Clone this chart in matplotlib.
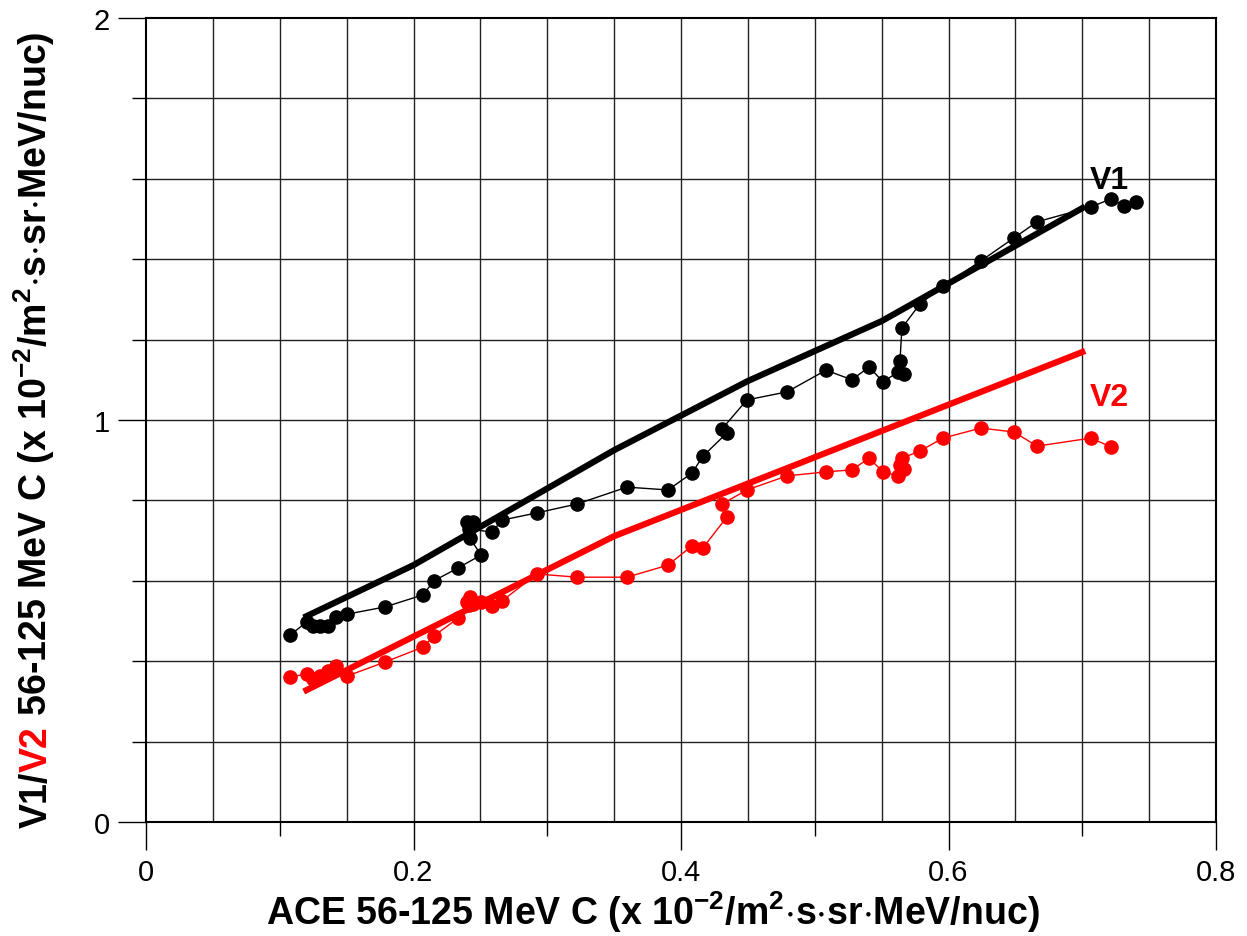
import numpy as np
import matplotlib
matplotlib.use("Agg")
import matplotlib.pyplot as plt

plt.rcParams['font.family'] = ['Liberation Sans', 'DejaVu Sans']
plt.rcParams['mathtext.default'] = 'regular'

# ACE 56-125 MeV C intensity (shared x for both Voyagers)
ace = [0.1077, 0.1204, 0.1249, 0.1301, 0.1361, 0.1421, 0.1503, 0.1787, 0.2071,
       0.2153, 0.2333, 0.2505, 0.2422, 0.2400, 0.2445, 0.2415, 0.2587, 0.2662,
       0.2923, 0.3222, 0.3596, 0.3903, 0.4082, 0.4164, 0.4344, 0.4307, 0.4493,
       0.4793, 0.5084, 0.5278, 0.5406, 0.5510, 0.5622, 0.5667, 0.5637, 0.5652,
       0.5787, 0.5959, 0.6243, 0.6490, 0.6662, 0.7065, 0.7215, 0.7312, 0.7402]

v1 = [0.465, 0.498, 0.488, 0.488, 0.488, 0.510, 0.517, 0.535, 0.565,
      0.600, 0.632, 0.664, 0.706, 0.746, 0.746, 0.729, 0.721, 0.751,
      0.769, 0.791, 0.833, 0.826, 0.868, 0.910, 0.968, 0.978, 1.050,
      1.070, 1.124, 1.100, 1.132, 1.095, 1.119, 1.114, 1.147, 1.229,
      1.289, 1.333, 1.396, 1.453, 1.493, 1.530, 1.550, 1.532, 1.542]

v2 = [0.361, 0.368, 0.356, 0.363, 0.376, 0.388, 0.363, 0.398, 0.435,
      0.463, 0.507, 0.547, 0.560, 0.547, 0.542, 0.540, 0.537, 0.550,
      0.617, 0.609, 0.609, 0.639, 0.687, 0.682, 0.759, 0.791, 0.826,
      0.861, 0.871, 0.876, 0.905, 0.871, 0.861, 0.878, 0.888, 0.905,
      0.923, 0.955, 0.980, 0.970, 0.935, 0.955, 0.933]

# smooth trend curves
fit1_x = [0.12, 0.20, 0.35, 0.45, 0.55, 0.70]
fit1_y = [0.512, 0.639, 0.925, 1.097, 1.246, 1.527]
fit2_x = [0.12, 0.35, 0.70]
fit2_y = [0.328, 0.711, 1.169]

red = '#ff0000'
grid_col = '#222222'

fig = plt.figure(figsize=(12.47, 9.37), dpi=100)
ax = fig.add_axes([146 / 1247, 1 - 823 / 937, 1070 / 1247, 804 / 937])
ax.set_xlim(0, 0.8)
ax.set_ylim(0, 2)

for xv in np.arange(0.05, 0.8, 0.05):
    ax.axvline(xv, color=grid_col, lw=1, zorder=0)
for yv in np.arange(0.2, 2.0, 0.2):
    ax.axhline(yv, color=grid_col, lw=1, zorder=0)

ax.plot(ace, v1, '-o', color='black', lw=1, ms=9.5, zorder=3)
ax.plot(ace[:len(v2)], v2, '-o', color=red, lw=1, ms=9.5, zorder=3)
ax.plot(fit1_x, fit1_y, color='black', lw=4.5, zorder=4)
ax.plot(fit2_x, fit2_y, color=red, lw=4.5, zorder=4)

ax.text(0.706, 1.597, 'V1', fontsize=23, fontweight='bold', va='center')
ax.text(0.706, 1.057, 'V2', fontsize=23, fontweight='bold', va='center', color=red)

ax.set_xticks([0, 0.2, 0.4, 0.6, 0.8], labels=['0', '0.2', '0.4', '0.6', '0.8'])
ax.set_xticks([0.1, 0.3, 0.5, 0.7], minor=True)
ax.set_yticks([0, 1, 2], labels=['0', '1', '2'])
ax.set_yticks([0.2, 0.4, 0.6, 0.8, 1.2, 1.4, 1.6, 1.8], minor=True)
ax.tick_params(which='major', direction='out', length=20, width=1, labelsize=21, pad=6)
ax.tick_params(which='minor', direction='out', length=10, width=1)
for sp in ax.spines.values():
    sp.set_linewidth(1.5)

unit = r' (x 10$^{-2}$/m$^{2}$$\cdot$s$\cdot$sr$\cdot$MeV/nuc)'
fig.text(653 / 1247, (937 - 925) / 937, 'ACE 56-125 MeV C' + unit,
         fontsize=27, fontweight='bold', ha='center', va='baseline')

# y label in pieces so V2 can be red
renderer = fig.canvas.get_renderer()
ypos = (937 - 828) / 937
for txt, col in [('V1/', 'black'), ('V2', red), (' 56-125 MeV C' + unit, 'black')]:
    t = fig.text(47 / 1247, ypos, txt, fontsize=27, fontweight='bold', color=col,
                 rotation=90, rotation_mode='anchor', ha='left', va='baseline')
    bb = t.get_window_extent(renderer)
    ypos += bb.height / fig.bbox.height

fig.savefig('out.png', dpi=100)
